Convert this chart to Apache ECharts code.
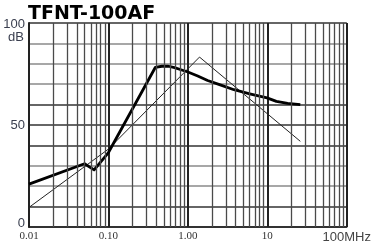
<!DOCTYPE html>
<html><head><meta charset="utf-8">
<script src="https://cdn.jsdelivr.net/npm/echarts@6/dist/echarts.min.js"></script>
<style>html,body{margin:0;padding:0;background:#fff}#c{width:374px;height:244px}</style>
</head><body><div id="c"></div>
<script>
var titleText = 'TFNT-100AF';
var xTickLabels = ['0.01', '0.10', '1.00', '10', '100MHz'];
var yTickLabels = {0: '0', 50: '50', 100: '100'};
var yUnit = 'dB';
var decades = [0.01, 0.1, 1, 10];
var minorMultipliers = [2, 3, 4, 5, 6, 7, 8, 9];

var thickFreq = [0.01, 0.05, 0.066, 0.1, 0.39, 0.47, 0.57, 0.68, 0.8, 1.0, 1.33, 1.77, 2.5, 3.8, 6, 9.9, 13, 18, 26];
var thickDb   = [21, 31, 28, 36.5, 78.3, 78.8, 78.8, 78.1, 77.2, 76, 74, 71.8, 69.8, 67.3, 65.3, 63.3, 61.6, 60.6, 60];
var thinFreq = [0.01, 0.1, 1.4, 26];
var thinDb   = [9.6, 38.2, 83.3, 42];

function pairs(xs, ys) { return xs.map(function (x, i) { return [x, ys[i]]; }); }

var minorLines = [];
decades.forEach(function (d) {
  minorMultipliers.forEach(function (m) {
    minorLines.push({ xAxis: +(d * m).toPrecision(6) });
  });
});

var hColors = ['#333', '#333', '#8a8a8a', '#8a8a8a', '#333', '#333', '#333', '#8a8a8a', '#8a8a8a', '#8a8a8a', '#333'];

var chart = echarts.init(document.getElementById('c'), null, { renderer: 'canvas' });
chart.setOption({
  animation: false,
  backgroundColor: '#fff',
  title: {
    text: titleText, left: 23, top: 0,
    textStyle: { fontFamily: 'DejaVu Sans', fontWeight: 'bold', fontSize: 19, color: '#000' }
  },
  grid: { left: 29, right: 23, top: 23, bottom: 16 },
  xAxis: {
    type: 'log', logBase: 10, min: 0.01, max: 100, splitNumber: 4,
    axisLine: { show: true, lineStyle: { color: '#222', width: 1.5 } },
    axisTick: { show: false },
    splitLine: { show: true, lineStyle: { color: '#222', width: 2 } },
    axisLabel: {
      margin: 4,
      formatter: function (v) {
        var i = Math.round(Math.log10(v)) + 2;
        if (i === 4) return '{m|' + xTickLabels[i] + '}';
        return '{s|' + xTickLabels[i] + '}';
      },
      rich: {
        s: { fontFamily: 'Liberation Serif', fontSize: 11, color: '#333' },
        m: { fontFamily: 'Liberation Sans', fontSize: 13, color: '#444' }
      }
    }
  },
  yAxis: {
    type: 'value', min: 0, max: 100, interval: 10,
    name: yUnit, nameLocation: 'end', nameGap: 0,
    nameTextStyle: { fontFamily: 'Liberation Sans', fontSize: 13, color: '#3a3f4f', align: 'right', verticalAlign: 'top', padding: [8, 5, 0, 0] },
    axisLine: { show: true, lineStyle: { color: '#222', width: 2 } },
    axisTick: { show: false },
    splitLine: { show: true, lineStyle: { color: hColors, width: 1.5 } },
    axisLabel: {
      margin: 4,
      fontFamily: 'Liberation Sans', fontSize: 13, color: '#3a3f4f',
      formatter: function (v) {
        if (v === 0) return '{z|' + yTickLabels[v] + '}';
        if (v === 100) return '{h|' + yTickLabels[v] + '}';
        return yTickLabels[v] !== undefined ? yTickLabels[v] : '';
      },
      rich: {
        z: { fontFamily: 'Liberation Sans', fontSize: 13, color: '#3a3f4f', padding: [0, 0, 7, 0] },
        h: { fontFamily: 'Liberation Sans', fontSize: 13, color: '#3a3f4f', padding: [2, 0, 0, 0] }
      }
    }
  },
  series: [
    {
      type: 'line', data: [], z: 1, silent: true,
      markLine: {
        silent: true, symbol: ['none', 'none'], animation: false,
        label: { show: false },
        lineStyle: { type: 'solid', color: '#4a4a4a', width: 1.3 },
        data: minorLines
      }
    },
    {
      type: 'line', data: pairs(thinFreq, thinDb), z: 3, symbol: 'none',
      lineStyle: { color: '#222', width: 1 }
    },
    {
      type: 'line', data: pairs(thickFreq, thickDb), z: 4, symbol: 'none',
      lineStyle: { color: '#000', width: 2.8, join: 'round' }
    }
  ]
});
</script></body></html>
